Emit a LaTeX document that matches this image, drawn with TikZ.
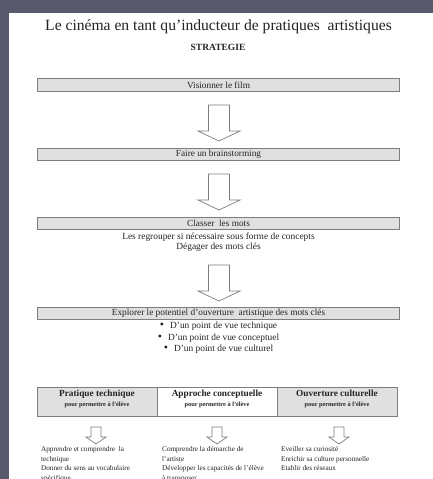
\documentclass[tikz,border=0pt]{standalone}
\usepackage{fontspec}
\setmainfont{Liberation Serif}
\usetikzlibrary{positioning}
\definecolor{slatebg}{RGB}{88,90,108}
\definecolor{boxgray}{RGB}{224,224,224}
\definecolor{edgegray}{RGB}{125,125,125}
\definecolor{inkgray}{RGB}{35,35,35}
\tikzset{stepbar/.style={rectangle, fill=boxgray, draw=edgegray, line width=0.9pt, minimum width=362pt, minimum height=12.5pt, inner sep=0pt, outer sep=0pt, text=inkgray, font=\fontsize{9.3}{10}\selectfont},
    cellbox/.style={rectangle, draw=edgegray, line width=0.9pt, minimum width=120pt, minimum height=29pt, inner sep=0pt, outer sep=0pt}}
\newcommand{\pointbullet}{{\fontsize{12}{10}\selectfont\textbullet}\hspace{6pt}}

\begin{document}
\begin{tikzpicture}[
        x=1pt, y=-1pt,
        blockarrow/.style={draw=edgegray, fill=white, line width=0.7pt, line join=miter},
        plaintext/.style={text=inkgray, inner sep=0pt, font=\fontsize{9.4}{10}\selectfont, align=center},
        coltext/.style={text=inkgray, inner sep=0pt, anchor=north west, align=left, font=\fontsize{7.2}{9.6}\selectfont}
    ]
        % Page
        \useasboundingbox (0, 0) rectangle (433, 479);
        \fill[slatebg] (0, 0) rectangle (433, 479);
        \fill[white] (9, 13) rectangle (433, 479);
        % Title
        \node[text=inkgray, font=\fontsize{15.6}{17}\selectfont] (title) at (218.5, 27) {Le cinéma en tant qu’inducteur de pratiques~ artistiques};
        \node[text=inkgray, font=\bfseries\fontsize{9.5}{10}\selectfont] (strategie) at (218, 47) {STRATEGIE};
        % Steps
        \node[stepbar] (visionner) at (218.5, 85) {Visionner le film};
        \node[stepbar] (brainstorm) at (218.5, 154.5) {Faire un brainstorming};
        \node[stepbar] (classer) at (218.5, 223.5) {Classer~ les mots};
        \node[plaintext, below=3pt of classer] (regrouper) {Les regrouper si nécessaire sous forme de concepts\\Dégager des mots clés};
        \node[stepbar] (explorer) at (218.5, 313.5) {Explorer le potentiel d’ouverture~ artistique des mots clés};
        \node[plaintext, font=\fontsize{9.4}{11.5}\selectfont, below=2.5pt of explorer] (pointsdevue) {%
            \pointbullet D’un point de vue technique\\
            \pointbullet D’un point de vue conceptuel\\
            \pointbullet D’un point de vue culturel};
        % Big arrows
        \foreach \ytop/\ytip in {105/141, 174/210, 265/301} {
            \draw[blockarrow] (208.5, \ytop) -- (229.5, \ytop) -- (229.5, \ytip-10) -- (240, \ytip-10) -- (219, \ytip)
                -- (198, \ytip-10) -- (208.5, \ytip-10) -- cycle;
        }
        % Table
        \node[cellbox, fill=boxgray] (technique) at (97, 401.5) {};
        \node[cellbox, fill=white, right=0pt of technique] (conceptuelle) {};
        \node[cellbox, fill=boxgray, right=0pt of conceptuelle] (culturelle) {};
        \foreach \cell/\heading in {technique/Pratique technique, conceptuelle/Approche conceptuelle, culturelle/Ouverture culturelle} {
            \node[text=inkgray, inner sep=0pt, align=center, below=2.5pt of \cell.north] (\cell-head) {%
                {\bfseries\fontsize{9.3}{9}\selectfont \heading}\\[-1.5pt]
                {\bfseries\fontsize{6.3}{6}\selectfont pour permettre à l’élève}};
        }
        % Small arrows
        \foreach \x in {96, 217, 339} {
            \draw[blockarrow] (\x-5, 427) -- (\x+5, 427) -- (\x+5, 437) -- (\x+10, 437) -- (\x, 444)
                -- (\x-10, 437) -- (\x-5, 437) -- cycle;
        }
        % Columns
        \node[coltext] (apprendre) at (41, 446.5) {Apprendre et comprendre~ la\\technique\\Donner du sens au vocabulaire\\spécifique};
        \node[coltext] (comprendre) at (162, 446.5) {Comprendre la démarche de\\l’artiste\\Développer les capacités de l’élève\\à transposer};
        \node[coltext] (eveiller) at (281, 446.5) {Eveiller sa curiosité\\Enrichir sa culture personnelle\\Etablir des réseaux};
    \end{tikzpicture}
\end{document}
